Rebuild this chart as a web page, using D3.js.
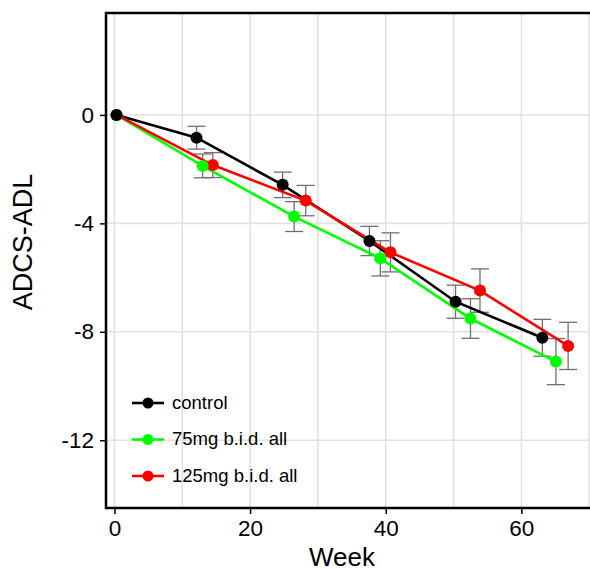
<!DOCTYPE html>
<html>
<head>
<meta charset="utf-8">
<script src="https://cdn.jsdelivr.net/npm/d3@7"></script>
<style>
  body { margin: 0; background: #fff; }
  svg { display: block; font-family: "Liberation Sans", Arial, sans-serif; }
</style>
</head>
<body>
<svg width="590" height="572"></svg>
<script>
// values
var seriesNames = ["control", "75mg b.i.d. all", "125mg b.i.d. all"];
var seriesColors = ["#000000", "#00ff00", "#ff0000"];

var controlWeek = [0.3, 12.1, 24.8, 37.6, 50.3, 63.1];
var controlMean = [0, -0.84, -2.58, -4.65, -6.89, -8.22];
var controlErr  = [0, 0.42, 0.47, 0.54, 0.61, 0.68];

var low_week = [0.3, 13.0, 26.5, 39.2, 52.5, 65.1];
var low_mean = [0, -1.88, -3.75, -5.29, -7.51, -9.1];
var low_err  = [0, 0.44, 0.55, 0.65, 0.73, 0.85];

var highWeek = [0.3, 14.5, 28.2, 40.7, 53.9, 66.9];
var highMean = [0, -1.85, -3.16, -5.07, -6.48, -8.52];
var highErr  = [0, 0.46, 0.56, 0.72, 0.8, 0.87];

var xTicks = [0, 20, 40, 60];
var xGrid = [0, 10, 20, 30, 40, 50, 60, 70];
var yTicks = [0, -4, -8, -12];

var svg = d3.select("svg"),
    width = +svg.attr("width"),
    height = +svg.attr("height");

var pLeft = 106, pTop = 13, pBottom = 508, pRight = 600;

var x = d3.scaleLinear().domain([-1.25, 71.6]).range([pLeft, pRight]);
var y = d3.scaleLinear().domain([3.76, -14.5]).range([pTop, pBottom]);

// build series table
var weeks = [controlWeek, low_week, highWeek],
    means = [controlMean, low_mean, highMean],
    errs = [controlErr, low_err, highErr];
var series = seriesNames.map(function (name, k) {
    return {
        name: name,
        color: seriesColors[k],
        pts: weeks[k].map(function (w, i) { return { w: w, m: means[k][i], e: errs[k][i] }; })
    };
});

// grid
svg.append("g").selectAll("line")
    .data(xGrid)
    .enter().append("line")
    .attr("x1", d => x(d)).attr("x2", d => x(d))
    .attr("y1", pTop).attr("y2", pBottom)
    .attr("stroke", "#e2e2e2").attr("stroke-width", 1.6);
svg.append("g").selectAll("line")
    .data(yTicks)
    .enter().append("line")
    .attr("x1", pLeft).attr("x2", pRight)
    .attr("y1", d => y(d)).attr("y2", d => y(d))
    .attr("stroke", "#e2e2e2").attr("stroke-width", 1.6);

// axes
var xAxis = svg.append("g")
    .attr("transform", "translate(0," + pBottom + ")")
    .call(d3.axisBottom(x).tickValues(xTicks).tickSize(6).tickPadding(6).tickFormat(d3.format("d")));
var yAxis = svg.append("g")
    .attr("transform", "translate(" + pLeft + ",0)")
    .call(d3.axisLeft(y).tickValues(yTicks).tickSize(6).tickPadding(6).tickFormat(d => d < 0 ? "-" + Math.abs(d) : d));
[xAxis, yAxis].forEach(function (a) {
    a.select(".domain").remove();
    a.selectAll(".tick line").attr("stroke", "#000").attr("stroke-width", 1.5);
    a.selectAll(".tick text").attr("fill", "#000").style("font-size", "22.5px").style("font-family", "Liberation Sans, Arial, sans-serif");
});

// panel border (right edge falls outside the picture)
svg.append("path")
    .attr("d", "M" + pRight + "," + pTop + "H" + pLeft + "V" + pBottom + "H" + pRight)
    .attr("fill", "none").attr("stroke", "#000").attr("stroke-width", 2.5);

// error bars
var eb = svg.append("g");
series.forEach(function (s) {
    var g = eb.append("g").selectAll("g")
        .data(s.pts.filter(d => d.e > 0))
        .enter().append("g")
        .attr("stroke", "#707070").attr("stroke-width", 1.3);
    g.append("line")
        .attr("x1", d => x(d.w)).attr("x2", d => x(d.w))
        .attr("y1", d => y(d.m - d.e)).attr("y2", d => y(d.m + d.e));
    g.append("line")
        .attr("x1", d => x(d.w) - 9).attr("x2", d => x(d.w) + 9)
        .attr("y1", d => y(d.m + d.e)).attr("y2", d => y(d.m + d.e));
    g.append("line")
        .attr("x1", d => x(d.w) - 9).attr("x2", d => x(d.w) + 9)
        .attr("y1", d => y(d.m - d.e)).attr("y2", d => y(d.m - d.e));
});

// lines and points
var line = d3.line().x(d => x(d.w)).y(d => y(d.m));
series.forEach(function (s) {
    svg.append("path")
        .datum(s.pts)
        .attr("d", line)
        .attr("fill", "none")
        .attr("stroke", s.color)
        .attr("stroke-width", 2.6);
});
series.slice().reverse().forEach(function (s) {
    svg.append("g").selectAll("circle")
        .data(s.pts)
        .enter().append("circle")
        .attr("cx", d => x(d.w)).attr("cy", d => y(d.m))
        .attr("r", 6)
        .attr("fill", s.color);
});

// legend
var legend = svg.append("g").selectAll("g")
    .data(series)
    .enter().append("g")
    .attr("transform", function (d, i) { return "translate(132," + (403 + i * 36.5) + ")"; });
legend.append("line")
    .attr("x1", 0).attr("x2", 32).attr("y1", 0).attr("y2", 0)
    .attr("stroke", d => d.color).attr("stroke-width", 2.6);
legend.append("circle")
    .attr("cx", 16).attr("cy", 0).attr("r", 5.5)
    .attr("fill", d => d.color);
legend.append("text")
    .attr("x", 40).attr("y", 5.5)
    .style("font-size", "18.5px")
    .text(d => d.name);

// axis titles
svg.append("text")
    .attr("x", 342).attr("y", 566)
    .attr("text-anchor", "middle")
    .style("font-size", "26px")
    .text("Week");
svg.append("text")
    .attr("transform", "translate(32," + 242 + ") rotate(-90)")
    .attr("text-anchor", "middle")
    .style("font-size", "27px")
    .text("ADCS-ADL");
</script>
</body>
</html>
